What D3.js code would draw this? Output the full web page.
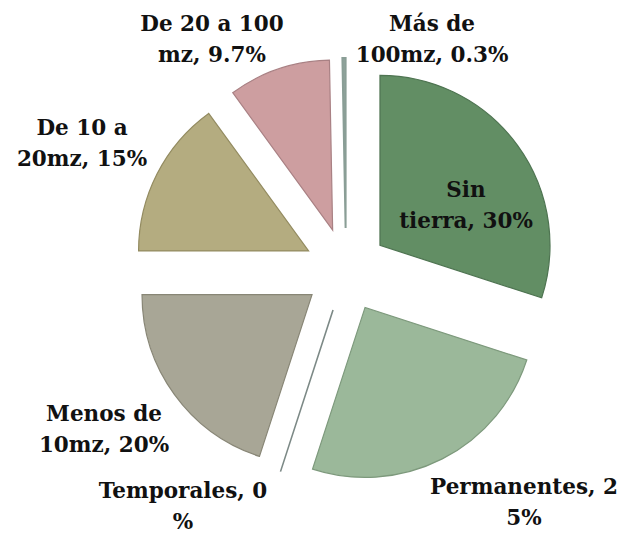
<!DOCTYPE html>
<html>
<head>
<meta charset="utf-8">
<script src="https://cdn.jsdelivr.net/npm/d3@7/dist/d3.min.js"></script>
<style>
  html, body { margin: 0; padding: 0; background: #fff; }
  svg { display: block; }
</style>
</head>
<body>
<svg id="chart" width="625" height="533"></svg>
<script>
// ---- data ----
const categories = ["Sin tierra", "Permanentes", "Temporales", "Menos de 10mz", "De 10 a 20mz", "De 20 a 100 mz", "Más de 100mz"];
const values = [30, 25, 0, 20, 15, 9.7, 0.3];
const valueLabels = ["30%", "25%", "0%", "20%", "15%", "9.7%", "0.3%"];

// ---- styles / layout ----
const fills   = ["#628e64", "#9bb89a", "#8a9794", "#a8a696", "#b4ac80", "#cd9ea0", "#91a59d"];
const strokes = ["#4e7451", "#7d997c", "#7c8986", "#888676", "#938b60", "#a98184", "#8a9e96"];
// label layout: break index in "category, value" string, anchor x, first baseline y
const labelLayout = [
  { brk: 3,  x: 466, y: 197 },
  { brk: 14, x: 524, y: 494 },
  { brk: 13, x: 183, y: 498 },
  { brk: 8,  x: 104, y: 421 },
  { brk: 7,  x: 82,  y: 135 },
  { brk: 11, x: 212, y: 31 },
  { brk: 6,  x: 432, y: 31 }
];
const cx = 346, cy = 270, radius = 170, explode = 42, lineH = 31;

const svg = d3.select("#chart");
const g = svg.append("g").attr("transform", `translate(${cx},${cy})`);

const pie = d3.pie().sort(null).value(d => d)(values);
const arc = d3.arc().innerRadius(0).outerRadius(radius);

g.selectAll("path.slice")
  .data(pie)
  .join("path")
  .attr("class", "slice")
  .attr("d", arc)
  .attr("transform", d => {
    const m = (d.startAngle + d.endAngle) / 2;
    return `translate(${Math.sin(m) * explode},${-Math.cos(m) * explode})`;
  })
  .attr("fill", (d, i) => fills[i])
  .attr("stroke", (d, i) => strokes[i])
  .attr("stroke-width", (d, i) => values[i] === 0 ? 1.6 : (values[i] < 1 ? 2 : 1.2))
  .attr("stroke-linejoin", "miter");

// labels
const labels = svg.append("g")
  .attr("font-family", "'DejaVu Serif', serif")
  .attr("font-size", 21.5)
  .attr("font-weight", "bold")
  .attr("fill", "#111")
  .attr("text-anchor", "middle");

categories.forEach((c, i) => {
  const full = `${c}, ${valueLabels[i]}`;
  const L = labelLayout[i];
  const l1 = full.slice(0, L.brk).trim();
  const l2 = full.slice(L.brk).trim();
  const t = labels.append("text").attr("x", L.x).attr("y", L.y);
  t.append("tspan").attr("x", L.x).attr("y", L.y).text(l1);
  t.append("tspan").attr("x", L.x).attr("y", L.y + lineH).text(l2);
});
</script>
</body>
</html>
